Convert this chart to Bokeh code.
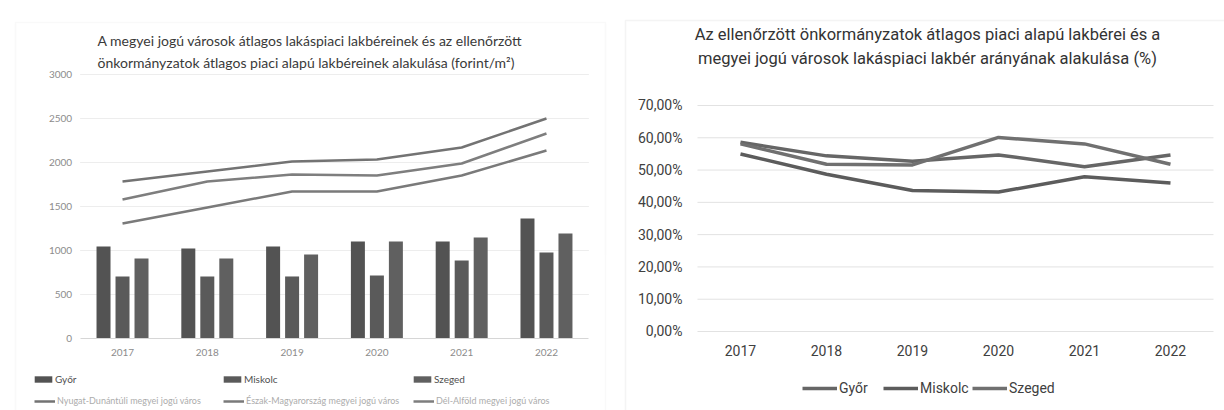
from bokeh.plotting import figure
from bokeh.models import (Range1d, Label, Legend, LegendItem, LinearAxis,
                          FixedTicker, ColumnDataSource, BoxAnnotation)
from bokeh.transform import dodge
from bokeh.layouts import row
from bokeh.embed import file_html
from bokeh.resources import INLINE

# ---------------- data ----------------
years = ["2017", "2018", "2019", "2020", "2021", "2022"]

# average market-based rents of the audited municipalities (Ft/m2) - bars
gyor_rent = [1045, 1023, 1045, 1102, 1102, 1364]
miskolc_rent = [705, 705, 705, 716, 886, 977]
szeged_rent = [909, 909, 955, 1102, 1148, 1193]

# average housing-market rents of the county-rank cities (Ft/m2) - lines
nyugat_market = [1784, 1898, 2011, 2034, 2170, 2500]
eszak_market = [1307, 1489, 1670, 1670, 1852, 2136]
del_market = [1580, 1784, 1864, 1852, 1989, 2330]

# ratio (%) - right chart
gyor_ratio = [58.6, 54.4, 52.7, 54.7, 51.0, 54.7]
miskolc_ratio = [55.0, 48.7, 43.7, 43.2, 47.9, 46.0]
szeged_ratio = [58.1, 51.8, 51.6, 60.1, 58.1, 51.8]

left_ticks = [0, 500, 1000, 1500, 2000, 2500, 3000]
right_ticks = [0, 10, 20, 30, 40, 50, 60, 70]
right_tick_labels = ["0,00%", "10,00%", "20,00%", "30,00%", "40,00%",
                     "50,00%", "60,00%", "70,00%"]

bar_names = ["Győr", "Miskolc", "Szeged"]
line_names = ["Nyugat-Dunántúli megyei jogú város",
              "Észak-Magyarország megyei jogú város",
              "Dél-Alföld megyei jogú város"]

left_title = ["A megyei jogú városok átlagos lakáspiaci lakbéreinek és az ellenőrzött",
              "önkormányzatok átlagos piaci alapú lakbéreinek alakulása (forint/m²)"]
right_title = ["Az ellenőrzött önkormányzatok átlagos piaci alapú lakbérei és a",
               "megyei jogú városok lakáspiaci lakbér arányának alakulása (%)"]

LFONT = "Lato"
RFONT = "Roboto"

x_idx = list(range(len(years)))
year_labels = {i: y for i, y in zip(x_idx, years)}
lo_cat, hi_cat = -0.5, len(years) - 0.5

H = 410

# ---------------- left chart ----------------
src_l = ColumnDataSource(dict(x=x_idx, gyor=gyor_rent, miskolc=miskolc_rent,
                              szeged=szeged_rent, nyugat=nyugat_market,
                              eszak=eszak_market, dal=del_market))

pl = figure(x_range=Range1d(-1.439, 5.873), y_range=Range1d(-818, 3841),
            width=620, height=H, min_border=0,
            x_axis_type=None, y_axis_type=None,
            output_backend="svg", toolbar_location=None)
pl.outline_line_color = None

# faint panel frame
pl.add_layout(BoxAnnotation(left=15, right=605, bottom=-20, top=H - 22,
                            left_units="screen", right_units="screen",
                            top_units="screen", bottom_units="screen",
                            fill_alpha=0, line_color="#ececec", line_width=1.5))

# light horizontal gridlines over the category area
pl.segment(x0=[lo_cat] * (len(left_ticks) - 1), x1=[hi_cat] * (len(left_ticks) - 1),
           y0=left_ticks[1:], y1=left_ticks[1:], line_color="#ededed", line_width=1)

xa = LinearAxis(fixed_location=0, ticker=FixedTicker(ticks=x_idx),
                major_label_overrides=year_labels, bounds=(lo_cat, hi_cat))
ya = LinearAxis(fixed_location=lo_cat, ticker=FixedTicker(ticks=left_ticks))
for ax in (xa, ya):
    ax.major_tick_line_color = None
    ax.major_tick_out = 0
    ax.major_tick_in = 0
    ax.minor_tick_line_color = None
    ax.minor_tick_out = 0
    ax.major_label_text_font = LFONT
    ax.major_label_text_font_size = "10px"
    ax.major_label_text_color = "#8c8c8c"
xa.axis_line_color = "#d6d6d6"
ya.axis_line_color = None
xa.major_label_standoff = 10
ya.major_label_standoff = 8
pl.add_layout(xa, "below")
pl.add_layout(ya, "left")

bw = 0.165
off = 0.224
bar_cols = ["#535353", "#5a5a5a", "#606060"]
rb = []
for i, (key, c) in enumerate(zip(["gyor", "miskolc", "szeged"], bar_cols)):
    r = pl.vbar(x=dodge("x", (i - 1) * off), top=key, width=bw, source=src_l,
                fill_color=c, line_color=None)
    rb.append(r)

line_cols = ["#737373", "#7a7a7a", "#7e7e7e"]
rl = []
for key, c in zip(["nyugat", "eszak", "dal"], line_cols):
    rl.append(pl.line(x="x", y=key, source=src_l, line_color=c, line_width=2.5))

for i, txt in enumerate(left_title):
    pl.add_layout(Label(x=97, y=H - 40 - 22 * i, x_units="screen", y_units="screen",
                        text=txt, text_font=LFONT, text_font_size="14px",
                        text_color="#3a3a3a", text_baseline="middle",
                        text_align="left"))

leg_x = [34, 223, 413]
for i in range(3):
    pl.add_layout(Legend(items=[LegendItem(label=bar_names[i], renderers=[rb[i]])],
                         location=(leg_x[i] - 2, H - 385), orientation="horizontal",
                         padding=0, margin=0, spacing=0, border_line_color=None,
                         background_fill_alpha=0, glyph_width=22, glyph_height=8,
                         label_standoff=1, label_height=12,
                         label_text_font=LFONT, label_text_font_size="10px",
                         label_text_color="#505050"))
    pl.add_layout(Legend(items=[LegendItem(label=line_names[i], renderers=[rl[i]])],
                         location=(leg_x[i], H - 406), orientation="horizontal",
                         padding=0, margin=0, spacing=0, border_line_color=None,
                         background_fill_alpha=0, glyph_width=21, glyph_height=8,
                         label_standoff=2, label_height=10,
                         label_text_font=LFONT, label_text_font_size="9px",
                         label_text_color="#acacac"))

# ---------------- right chart ----------------
src_r = ColumnDataSource(dict(x=x_idx, gyor=gyor_ratio, miskolc=miskolc_ratio,
                              szeged=szeged_ratio))

pr = figure(x_range=Range1d(-1.395, 5.628), y_range=Range1d(-24.47, 102.52),
            width=604, height=H, min_border=0,
            x_axis_type=None, y_axis_type=None,
            output_backend="svg", toolbar_location=None)
pr.outline_line_color = None

# panel frame (left and top edges visible)
pr.add_layout(BoxAnnotation(left=5, right=700, bottom=-20, top=H - 20,
                            left_units="screen", right_units="screen",
                            top_units="screen", bottom_units="screen",
                            fill_alpha=0, line_color="#dadada", line_width=1.5))

pr.segment(x0=[lo_cat] * len(right_ticks), x1=[hi_cat] * len(right_ticks),
           y0=right_ticks, y1=right_ticks, line_color="#e2e2e2", line_width=1)

rxa = LinearAxis(fixed_location=0, ticker=FixedTicker(ticks=x_idx),
                 major_label_overrides=year_labels)
rya = LinearAxis(fixed_location=lo_cat, ticker=FixedTicker(ticks=right_ticks),
                 major_label_overrides={t: s for t, s in zip(right_ticks, right_tick_labels)})
for ax in (rxa, rya):
    ax.axis_line_color = None
    ax.major_tick_line_color = None
    ax.major_tick_out = 0
    ax.major_tick_in = 0
    ax.minor_tick_line_color = None
    ax.minor_tick_out = 0
    ax.major_label_text_font = RFONT
    ax.major_label_text_font_size = "14px"
    ax.major_label_text_color = "#404040"
rxa.major_label_standoff = 14
rya.major_label_standoff = 15
pr.add_layout(rxa, "below")
pr.add_layout(rya, "left")

rr = []
rcols = ["#666666", "#5c5c5c", "#707070"]
for key, c in zip(["gyor", "miskolc", "szeged"], rcols):
    rr.append(pr.line(x="x", y=key, source=src_r, line_color=c, line_width=3.5))

for i, txt in enumerate(right_title):
    pr.add_layout(Label(x=307, y=H - 34 - 24 * i, x_units="screen", y_units="screen",
                        text=txt, text_font=RFONT, text_font_size="16.5px",
                        text_color="#333333", text_baseline="middle",
                        text_align="center"))

rleg_x = [182, 263, 352]
for i in range(3):
    pr.add_layout(Legend(items=[LegendItem(label=bar_names[i], renderers=[rr[i]])],
                         location=(rleg_x[i], H - 396), orientation="horizontal",
                         padding=0, margin=0, spacing=0, border_line_color=None,
                         background_fill_alpha=0, glyph_width=35, glyph_height=16,
                         label_standoff=2, label_height=16,
                         label_text_font=RFONT, label_text_font_size="14px",
                         label_text_color="#404040"))

layout = row(pl, pr)
open("out.html", "w").write(file_html(layout, INLINE))
